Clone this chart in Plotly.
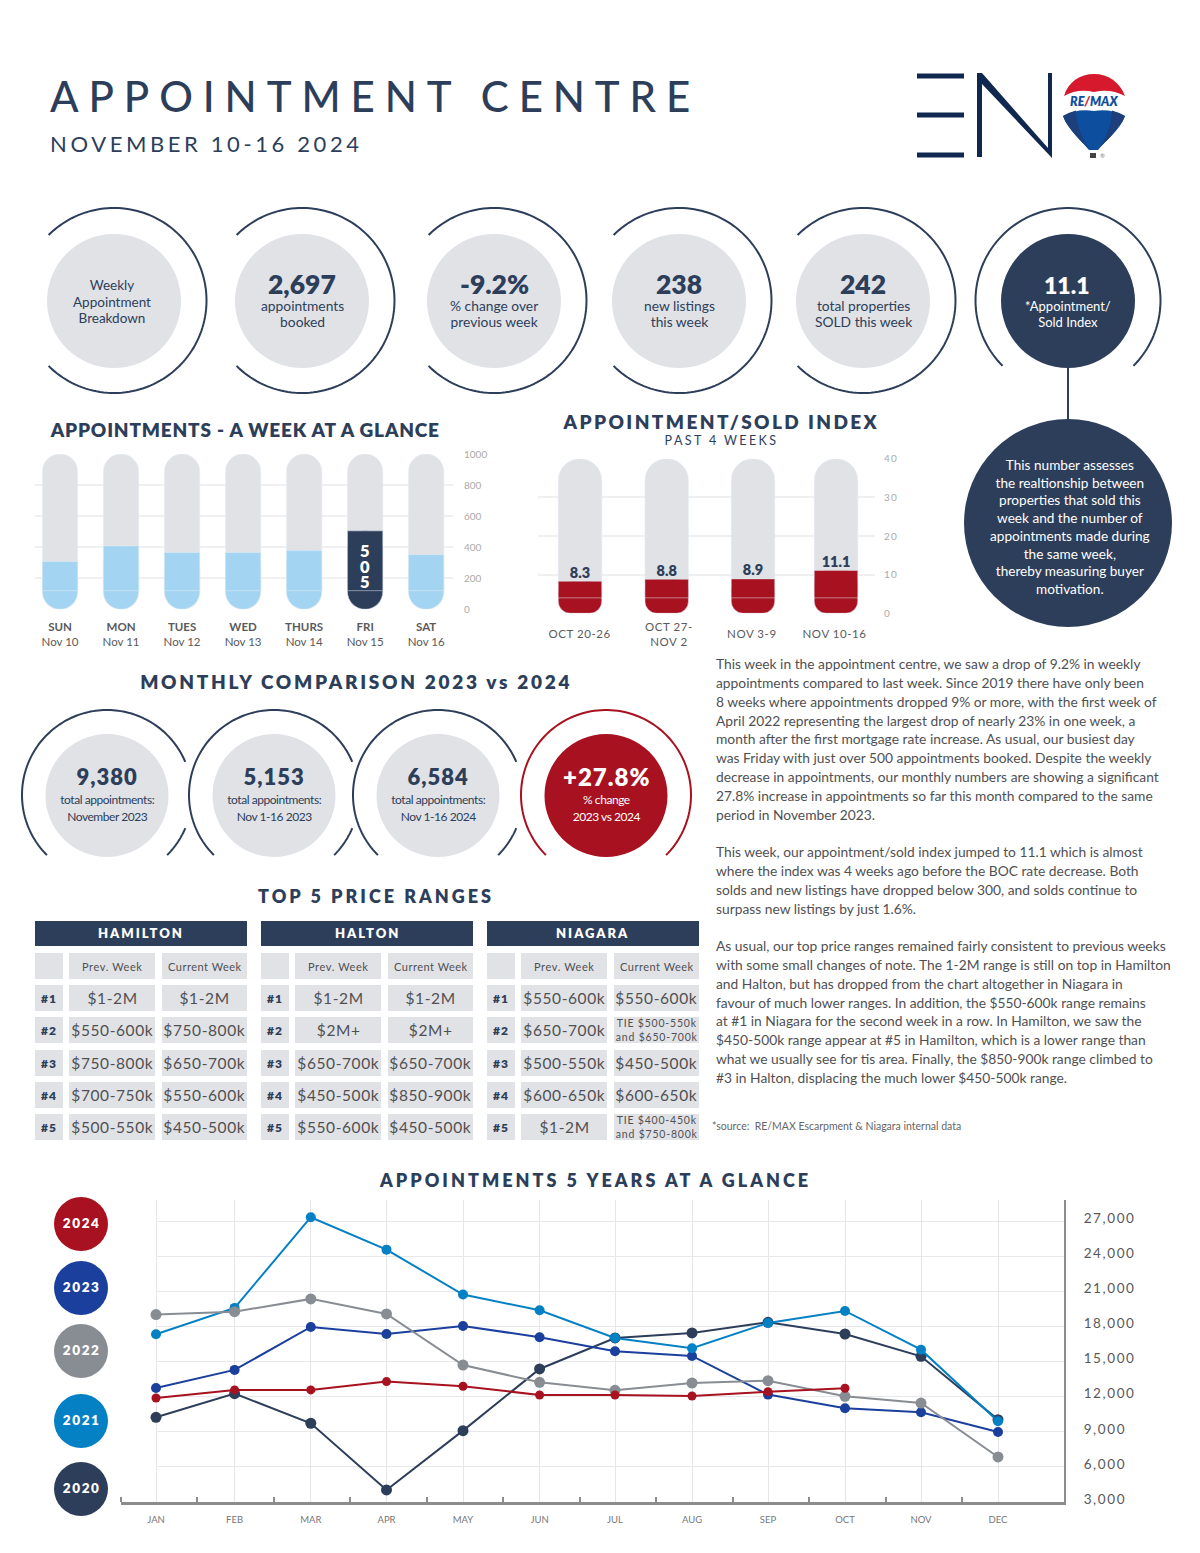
import json
import numpy as np
import plotly.graph_objects as go

W, H = 1200, 1553
NAVY = "#2d3e5a"; RED = "#a8111f"; GRAY = "#e0e2e6"; LBLUE = "#a3d5f3"
TXT = "#505052"; FONT = "Lato"

week_days = ["SUN", "MON", "TUES", "WED", "THURS", "FRI", "SAT"]
week_dates = ["Nov 10", "Nov 11", "Nov 12", "Nov 13", "Nov 14", "Nov 15", "Nov 16"]
week_values = [308, 408, 366, 366, 378, 505, 352]
week_max = 1000

index_weeks = ["OCT 20-26", "OCT 27-<br>NOV 2", "NOV 3-9", "NOV 10-16"]
index_values = [8.3, 8.8, 8.9, 11.1]
index_max = 40
index_centres = [580, 666.7, 753, 836]
index_label_x = [580, 669, 752, 834.5]

months = ["JAN", "FEB", "MAR", "APR", "MAY", "JUN", "JUL", "AUG", "SEP", "OCT", "NOV", "DEC"]
month_x = [156, 234.6, 310.8, 386.5, 463, 539.6, 615, 692, 768, 845, 921, 998]
y2020 = [10240, 12260, 9730, 4030, 9100, 14370, 17020, 17450, 18360, 17360, 15450, 10040]
y2021 = [17335, 19590, 27340, 24570, 20730, 19390, 17020, 16140, 18300, 19330, 16020, 9900]
y2022 = [19020, 19270, 20360, 19070, 14710, 13230, 12550, 13170, 13370, 12030, 11460, 6850]
y2023 = [12750, 14290, 17960, 17360, 18050, 17080, 15880, 15480, 12180, 11010, 10670, 8990]
y2024 = [11890, 12580, 12580, 13290, 12890, 12150, 12150, 12060, 12430, 12720]
year_colors = {"2020": "#2c3e5a", "2021": "#0480c4", "2022": "#888d93", "2023": "#1b3f9c", "2024": "#a8111f"}

top_circles = [
    (114, None, "Weekly<br>Appointment<br>Breakdown"),
    (302, "2,697", "appointments<br>booked"),
    (494, "-9.2%", "% change over<br>previous week"),
    (679, "238", "new listings<br>this week"),
    (863, "242", "total properties<br>SOLD this week"),
]
index_circle = ("11.1", "*Appointment/<br>Sold Index")
index_note = ("This number assesses<br>the realtionship between<br>properties that sold this<br>week and the number of<br>"
              "appointments made during<br>the same week,<br>thereby measuring buyer<br>motivation.")
month_circles = [
    (107, "9,380", "total appointments:<br>November 2023"),
    (274, "5,153", "total appointments:<br>Nov 1-16 2023"),
    (438, "6,584", "total appointments:<br>Nov 1-16 2024"),
    (606, "+27.8%", "% change<br>2023 vs 2024"),
]

ranks = ["#1", "#2", "#3", "#4", "#5"]
regions = ["HAMILTON", "HALTON", "NIAGARA"]
hamilton_prev = ["$1-2M", "$550-600k", "$750-800k", "$700-750k", "$500-550k"]
hamilton_curr = ["$1-2M", "$750-800k", "$650-700k", "$550-600k", "$450-500k"]
halton_prev = ["$1-2M", "$2M+", "$650-700k", "$450-500k", "$550-600k"]
halton_curr = ["$1-2M", "$2M+", "$650-700k", "$850-900k", "$450-500k"]
niagara_prev = ["$550-600k", "$650-700k", "$500-550k", "$600-650k", "$1-2M"]
niagara_curr = ["$550-600k", "TIE $500-550k<br>and $650-700k", "$450-500k", "$600-650k", "TIE $400-450k<br>and $750-800k"]

para1 = ("This week in the appointment centre, we saw a drop of 9.2% in weekly<br>"
         "appointments compared to last week. Since 2019 there have only been<br>"
         "8 weeks where appointments dropped 9% or more, with the first week of<br>"
         "April 2022 representing the largest drop of nearly 23% in one week, a<br>"
         "month after the first mortgage rate increase. As usual, our busiest day<br>"
         "was Friday with just over 500 appointments booked. Despite the weekly<br>"
         "decrease in appointments, our monthly numbers are showing a significant<br>"
         "27.8% increase in appointments so far this month compared to the same<br>"
         "period in November 2023.")
para2 = ("This week, our appointment/sold index jumped to 11.1 which is almost<br>"
         "where the index was 4 weeks ago before the BOC rate decrease. Both<br>"
         "solds and new listings have dropped below 300, and solds continue to<br>"
         "surpass new listings by just 1.6%.")
para3 = ("As usual, our top price ranges remained fairly consistent to previous weeks<br>"
         "with some small changes of note. The 1-2M range is still on top in Hamilton<br>"
         "and Halton, but has dropped from the chart altogether in Niagara in<br>"
         "favour of much lower ranges. In addition, the $550-600k range remains<br>"
         "at #1 in Niagara for the second week in a row. In Hamilton, we saw the<br>"
         "$450-500k range appear at #5 in Hamilton, which is a lower range than<br>"
         "what we usually see for tis area. Finally, the $850-900k range climbed to<br>"
         "#3 in Halton, displacing the much lower $450-500k range.")


def px(x): return x / W
def py(y): return 1 - y / H


shapes, annotations, spacing, leading = [], [], {}, {}


def text(s, x, y, size, color=TXT, bold=False, anchor="center", track=0, weight=None, style=None, lh=None):
    f = dict(family=FONT, size=size, color=color)
    if bold: f["weight"] = 800
    if weight: f["weight"] = weight
    if style: f["style"] = style
    i = len(annotations)
    if track: spacing[i] = track
    n = s.count("<br>")
    if lh and n:
        leading[i] = lh
        y = y + n * (1.3 * size - lh) / 2
    if anchor == "left":
        x -= 2
    annotations.append(dict(text=s, x=px(x), y=py(y - 0.8), xref="paper", yref="paper", showarrow=False,
                            xanchor=anchor, yanchor="middle", align=anchor, font=f))


def circle(cx, cy, r, color):
    shapes.append(dict(type="circle", xref="paper", yref="paper", x0=px(cx - r), x1=px(cx + r),
                       y0=py(cy - r), y1=py(cy + r), fillcolor=color, line_width=0, layer="below"))


def rect(x0, y0, x1, y1, color, layer="below"):
    shapes.append(dict(type="rect", xref="paper", yref="paper", x0=px(x0), x1=px(x1), y0=py(y0), y1=py(y1),
                       fillcolor=color, line_width=0, layer=layer))


def arc(cx, cy, r, a0, a1, color, width=2):
    t = np.radians(np.linspace(a0, a1, 120))
    pts = [f"{px(cx + r*np.cos(a)):.5f},{py(cy + r*np.sin(a)):.5f}" for a in t]
    shapes.append(dict(type="path", xref="paper", yref="paper", path="M" + " L".join(pts),
                       line=dict(color=color, width=width), layer="below"))


def svg(cmds, color, line=0):
    parts = []
    for c in cmds:
        parts.append(c[0] + " " + " ".join(f"{px(c[i]):.5f},{py(c[i+1]):.5f}" for i in range(1, len(c), 2)))
    shapes.append(dict(type="path", xref="paper", yref="paper", path=" ".join(parts) + " Z",
                       fillcolor=color, line_width=line, layer="below"))


# header
text("APPOINTMENT CENTRE", 50, 97, 42, NAVY, anchor="left", track=9.9, weight=500)
text("NOVEMBER 10-16 2024", 50, 144, 22, NAVY, anchor="left", track=3.6, weight=400)
for y in (76, 115, 155):
    rect(917, y - 2.5, 964, y + 2.5, "#10284f")
svg([("M", 977, 73), ("L", 982, 73), ("L", 1048, 148), ("L", 1048, 73), ("L", 1052, 73), ("L", 1052, 158),
     ("L", 982, 84), ("L", 982, 157), ("L", 977, 157)], "#10284f")
svg([("M", 1064, 96), ("C", 1068, 82, 1080, 74, 1094, 74), ("C", 1108, 74, 1120, 82, 1125, 96),
     ("Q", 1110, 88, 1094, 92), ("Q", 1078, 88, 1064, 96)], "#d7192d")
svg([("M", 1063, 116), ("Q", 1078, 108, 1094, 111), ("Q", 1110, 108, 1125, 116),
     ("C", 1120, 130, 1104, 142, 1098, 150), ("L", 1089, 150), ("C", 1083, 142, 1068, 130, 1063, 116)], "#0d4f9e")
svg([("M", 1063, 116), ("Q", 1070, 112, 1076, 110.5), ("C", 1076, 125, 1084, 142, 1089, 150), ("C", 1083, 142, 1068, 130, 1063, 116)], "#1d3f7c")
svg([("M", 1125, 116), ("Q", 1118, 112, 1112, 110.5), ("C", 1112, 125, 1104, 142, 1098, 150), ("C", 1104, 142, 1120, 130, 1125, 116)], "#1d3f7c")
rect(1090, 153, 1096, 158, "#444444")
text("<span style='color:#0d4f9e'>RE</span><span style='color:#d7192d'>/</span><span style='color:#0d4f9e'>MAX</span>",
     1094, 102.5, 12.5, bold=True, style="italic")
text("®", 1102, 156, 6, "#777777")

# top circles
for cx, big, small in top_circles:
    circle(cx, 301, 67, GRAY)
    arc(cx, 300.5, 92.5, -135, 135, NAVY)
    if big:
        text(big, cx, 285, 26.5, NAVY, bold=True)
        text(small, cx, 314, 13.8, NAVY, lh=16)
    else:
        text(small, cx - 2, 302, 13.5, NAVY, lh=16.5)
circle(1068, 301, 67, NAVY)
arc(1068, 300.5, 92.5, 135, 405, NAVY)
shapes.append(dict(type="line", xref="paper", yref="paper", x0=px(1068), x1=px(1068), y0=py(367), y1=py(425),
                   line=dict(color=NAVY, width=2), layer="below"))
text(index_circle[0], 1067, 286, 23, "white", bold=True)
text(index_circle[1], 1068, 314.5, 13, "white", lh=16)
circle(1068, 523, 104, NAVY)
text(index_note, 1070, 527.5, 13.6, "white", lh=17.7)

# headings
text("APPOINTMENTS - A WEEK AT A GLANCE", 245, 430, 19, NAVY, bold=True, track=0.8)
text("APPOINTMENT/SOLD INDEX", 721.5, 422, 19, NAVY, bold=True, track=2.4)
text("PAST 4 WEEKS", 721, 441.5, 12.5, NAVY, track=2.4)
text("MONTHLY COMPARISON 2023 vs 2024", 356, 682, 19, NAVY, bold=True, track=2.7)
text("TOP 5 PRICE RANGES", 376, 897, 18, NAVY, bold=True, track=3)
text("APPOINTMENTS 5 YEARS AT A GLANCE", 595, 1181, 18, NAVY, bold=True, track=3)

# monthly circles
for i, (cx, big, small) in enumerate(month_circles):
    last = i == 3
    col = RED if last else NAVY
    circle(cx, 795.5, 61.5, RED if last else GRAY)
    if last:
        arc(cx, 795, 85, 135, 405, col)
    else:
        arc(cx, 795, 85, 135, 337, col)
        arc(cx, 795, 85, 23, 45, col)
    text(big, cx, 777, 24 if last else 22, "white" if last else NAVY, bold=True, track=1)
    text(small, cx, 809, 12, "white" if last else NAVY, track=-0.45, lh=17)

# price range tables
table_left = [35, 261, 487]
tops = [985, 1017, 1050, 1082, 1114]
cols = [(hamilton_prev, hamilton_curr), (halton_prev, halton_curr), (niagara_prev, niagara_curr)]
for left, reg, (prev, curr) in zip(table_left, regions, cols):
    rect(left, 921, left + 212, 946, NAVY)
    text(reg, left + 106, 934, 13, "white", bold=True, track=2)
    for a, b in ((0, 28), (34, 120), (127, 212)):
        rect(left + a, 953, left + b, 979, GRAY)
    text("Prev. Week", left + 77, 967, 11, TXT, track=0.6)
    text("Current Week", left + 169.5, 967, 11, TXT, track=0.5)
    for k, top in enumerate(tops):
        for a, b in ((0, 28), (34, 120), (127, 212)):
            rect(left + a, top, left + b, top + 26, GRAY)
        text(ranks[k], left + 14, top + 14, 12, NAVY, bold=True, track=1)
        text(prev[k], left + 77, top + 13.5, 15.5, TXT, track=0.6)
        if "<br>" in curr[k]:
            text(curr[k], left + 169.5, top + 13.5, 10.5, TXT, track=0.8, lh=14)
        else:
            text(curr[k], left + 169.5, top + 13.5, 15.5, TXT, track=0.6)

# body copy
BODY = 13.8; BODY_LH = 18.85
text(para1, 716, 739.8, BODY, TXT, anchor="left", weight=400, lh=BODY_LH)
text(para2, 716, 880.8, BODY, TXT, anchor="left", weight=400, lh=BODY_LH)
text(para3, 716, 1012.8, BODY, TXT, anchor="left", weight=400, lh=BODY_LH)
text("*source:  RE/MAX Escarpment &amp; Niagara internal data", 712, 1126.8, 10.5, "#666666", anchor="left")

# legend discs
for year, cy in zip(["2024", "2023", "2022", "2021", "2020"], [1224, 1288, 1351, 1421, 1489]):
    circle(81, cy, 27, year_colors[year])
    text(year, 81, cy, 13.5, "white", bold=True, track=1.6)

# index week labels
for label, x in zip(index_weeks, index_label_x):
    text(label, x, 634.5, 11.5, "#5a5a5c", track=0.55, lh=14.5)

fig = go.Figure()
BAR_R = 17.6

# week chart
xs = list(range(7))
fig.add_bar(x=xs, y=[week_max] * 7, base=[0] * 7, width=0.579, xaxis="x", yaxis="y",
            marker=dict(color=GRAY, cornerradius=BAR_R))
peak = int(np.argmax(week_values))
fills = [NAVY if i == peak else LBLUE for i in xs]
fig.add_bar(x=xs, y=week_values, base=[0] * 7, width=0.579, xaxis="x", yaxis="y",
            marker=dict(color=fills, cornerradius=BAR_R))
fig.add_bar(x=xs, y=[v - 120 for v in week_values], base=[120] * 7, width=0.579, xaxis="x", yaxis="y",
            marker=dict(color=fills))
text("<br>".join(str(week_values[peak])), 365, 567.5, 16.5, "white", bold=True, lh=15.6)

# index chart
fig.add_bar(x=index_centres, y=[index_max] * 4, base=[0] * 4, width=43.5, xaxis="x2", yaxis="y2",
            marker=dict(color=GRAY, cornerradius=21.7))
fig.add_bar(x=index_centres, y=index_values, base=[0] * 4, width=43.5, xaxis="x2", yaxis="y2",
            marker=dict(color=RED, cornerradius=12))
fig.add_bar(x=index_centres, y=[v - 4 for v in index_values], base=[4] * 4, width=43.5, xaxis="x2", yaxis="y2",
            marker=dict(color=RED))
fig.add_scatter(x=index_centres, y=index_values, mode="text", text=[f"{v:.1f}" for v in index_values],
                textposition="top center", textfont=dict(family=FONT, size=14.5, color=NAVY, weight=800),
                xaxis="x2", yaxis="y2", cliponaxis=False)

# five-year line chart: x3/y3 carries the horizontal grid only, x4/y4 the data
Y_TOP = 3000 + (1502 - 1200) / 35.1 * 3000
line_ticks = list(range(3000, 27001, 3000))
fig.add_scatter(x=[0], y=[3000], mode="none", xaxis="x3", yaxis="y3", hoverinfo="skip")
for name, vals, size in (("2020", y2020, 11), ("2023", y2023, 10), ("2021", y2021, 10), ("2022", y2022, 11), ("2024", y2024, 9)):
    fig.add_scatter(x=month_x[:len(vals)], y=vals, mode="lines+markers", name=name, xaxis="x4", yaxis="y4",
                    line=dict(color=year_colors[name], width=2), marker=dict(color=year_colors[name], size=size))

week_ticks = [f"<b>{d}</b><br>{n}" for d, n in zip(week_days, week_dates)]

fig.update_layout(
    width=W, height=H, autosize=False, margin=dict(l=0, r=0, t=0, b=0, autoexpand=False),
    paper_bgcolor="white", plot_bgcolor="rgba(0,0,0,0)",
    showlegend=False, barmode="overlay", font=dict(family=FONT), shapes=shapes, annotations=annotations,
    xaxis=dict(domain=[px(35), px(453)], range=[-0.41, 6.44], anchor="y", tickmode="array", tickvals=xs, ticktext=week_ticks,
               showgrid=False, zeroline=False, showline=False, ticks="", ticklabelstandoff=9,
               tickfont=dict(family=FONT, size=11.5, color="#5a5a5c"), fixedrange=True),
    yaxis=dict(domain=[py(609.3), py(454)], range=[0, week_max], anchor="x", side="right", dtick=200, tickformat="d",
               gridcolor="#f0f0f1", gridwidth=1.5, zeroline=False, showline=False, ticks="", ticklabelstandoff=10,
               tickfont=dict(family=FONT, size=10, color="#aaaaaa"), fixedrange=True),
    xaxis2=dict(domain=[px(538), px(875)], range=[538, 875], anchor="y2", showticklabels=False,
                showgrid=False, zeroline=False, showline=False, ticks="", fixedrange=True),
    yaxis2=dict(domain=[py(613.3), py(458.7)], range=[0, index_max], anchor="x2", side="right", dtick=10,
                gridcolor="#f0f0f1", gridwidth=1.5, zeroline=False, showline=False, ticks="", ticklabelstandoff=8,
                tickfont=dict(family=FONT, size=10, color="#aaaaaa"), fixedrange=True),
    xaxis3=dict(domain=[px(156), px(1064)], range=[0, 1], anchor="y3", showgrid=False, zeroline=False,
                showticklabels=False, ticks="", fixedrange=True),
    yaxis3=dict(domain=[py(1502), py(1200)], range=[3000, Y_TOP], anchor="x3", tickmode="array", tickvals=line_ticks,
                showticklabels=False, showgrid=True, gridcolor="#e8e8ea", gridwidth=1.3, zeroline=False, ticks="",
                fixedrange=True),
    xaxis4=dict(domain=[px(120.5), px(1064)], range=[120.5, 1064], anchor="y4", tickmode="array", tickvals=month_x, ticktext=months,
                showgrid=True, gridcolor="#e6e6e8", gridwidth=1, zeroline=False, showline=True, linecolor="#8c8c8e", linewidth=2.5,
                ticks="", ticklabelstandoff=7, tickfont=dict(family=FONT, size=9.5, color="#77777a"),
                minor=dict(tickvals=[120.5 + 76.5 * k for k in range(12)], ticks="inside", ticklen=5, tickcolor="#8c8c8e", tickwidth=1.5, showgrid=False),
                fixedrange=True),
    yaxis4=dict(domain=[py(1502), py(1200)], range=[3000, Y_TOP], anchor="x4", side="right",
                tickmode="array", tickvals=line_ticks, tickformat=",", showgrid=False, zeroline=False,
                showline=True, linecolor="#8c8c8e", linewidth=2, ticks="", ticklabelstandoff=15, ticklabelshift=-3,
                tickfont=dict(family=FONT, size=13.5, color="#58585a"), fixedrange=True),
)

post = """
document.body.style.margin = '0';
var gd = document.getElementById('{plot_id}');
var sp = %s, ld = %s;
Object.keys(sp).forEach(function (i) {
  var t = gd.querySelector('.annotation[data-index="' + i + '"] text');
  if (t) t.style.letterSpacing = sp[i] + 'px';
});
Object.keys(ld).forEach(function (i) {
  gd.querySelectorAll('.annotation[data-index="' + i + '"] text tspan.line').forEach(function (l, k) {
    l.setAttribute('dy', (k * ld[i]) + 'px');
  });
});
gd.querySelectorAll('.y4tick text').forEach(function (t) { t.style.letterSpacing = '1.6px'; });
gd.querySelectorAll('.y2tick text').forEach(function (t) { t.style.letterSpacing = '1.2px'; });
""" % (json.dumps(spacing), json.dumps(leading))

fig.write_html("out.html", post_script=post, config=dict(displayModeBar=False))
